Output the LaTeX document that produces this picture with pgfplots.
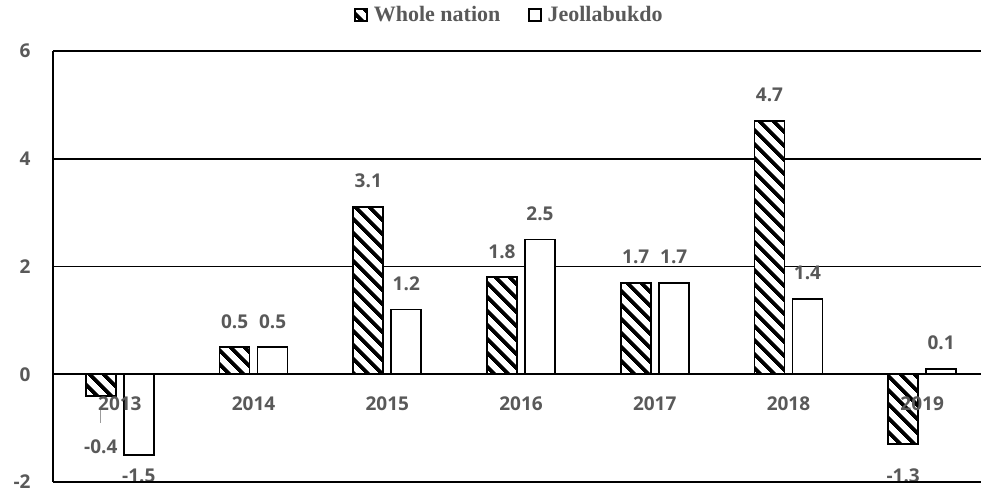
\documentclass[border=0pt]{standalone}
\usepackage{fontspec}
\setmainfont{Open Sans}
\newfontfamily\legfont{Liberation Serif}
\usepackage{pgfplots}
\pgfplotsset{compat=1.18}
\usepackage{pgfplotstable}
\usetikzlibrary{patterns.meta,calc}
\definecolor{lab}{HTML}{595959}

% x = category index (2013..2019), dy = label centre offset from bar end (pt)
\pgfplotstableread{
x  y     lab   dy
0  -0.4  -0.4  -51
1  0.5   0.5   26
2  3.1   3.1   26
3  1.8   1.8   26
4  1.7   1.7   26
5  4.7   4.7   26
6  -1.3  -1.3  -31
}\whole
\pgfplotstableread{
x  y     lab   dy
0  -1.5  -1.5  -21
1  0.5   0.5   26
2  1.2   1.2   26
3  2.5   2.5   26
4  1.7   1.7   26
5  1.4   1.4   26
6  0.1   0.1   26
}\jeol

\begin{document}
\begin{tikzpicture}[yearlab/.style={font=\fontsize{19}{21}\selectfont\bfseries, text=lab,
    inner sep=0pt, yshift=-29pt}]
\begin{axis}[
  scale only axis, width=928pt, height=431pt,
  xmin=-0.5, xmax=6.44, ymin=-2, ymax=6,
  ybar=8pt, bar width=30pt,
  axis y line=left, axis x line=middle,
  x axis line style={-, line width=1.8pt},
  y axis line style={-, line width=1.8pt},
  hide obscured x ticks=false, hide obscured y ticks=false,
  xtick={0,1,2,3,4,5,6}, xticklabels={},
  ytick={-2,0,2,4,6}, yticklabels={-2,0,2,4,6},
  major tick length=0pt,
  ymajorgrids, major grid style={black, line width=1.8pt},
  tick label style={font=\fontsize{19}{21}\selectfont\bfseries, text=lab},
  yticklabel style={xshift=-19pt},
  point meta=explicit symbolic,
  nodes near coords,
  visualization depends on={\thisrow{dy} \as \dy},
  legend columns=2,
  legend style={draw=none, fill=none, at={(0.492,1)}, anchor=center, yshift=36pt,
    font=\legfont\bfseries\fontsize{22}{24}\selectfont, text=lab,
    /tikz/every odd column/.append style={column sep=4pt},
    /tikz/every even column/.append style={column sep=26pt}},
  legend image code/.code={\draw[#1, line width=1.2pt] (0pt,-6pt) rectangle (12pt,6pt);},
]
\addplot[draw=black, line width=1.8pt, preaction={fill=white},
  pattern={Lines[angle=-45,distance=10.5pt,line width=4.2pt]}, pattern color=black,
  every node near coord/.append style={anchor=center, inner sep=0pt,
    yshift=\dy pt, font=\fontsize{19}{21}\selectfont\bfseries, text=lab}]
  table[x=x, y=y, meta=lab] {\whole};
\addplot[draw=black, fill=white, line width=1.8pt,
  every node near coord/.append style={anchor=center, inner sep=0pt,
    yshift=\dy pt, font=\fontsize{19}{21}\selectfont\bfseries, text=lab}]
  table[x=x, y=y, meta=lab] {\jeol};
\legend{Whole nation, Jeollabukdo}
\draw[lab!60, line width=1.2pt] (axis cs:-0.142,-0.63) -- (axis cs:-0.142,-0.91);
% category names over the bars, as in the reference
\node[yearlab] at (axis cs:0,0) {2013};
\node[yearlab] at (axis cs:1,0) {2014};
\node[yearlab] at (axis cs:2,0) {2015};
\node[yearlab] at (axis cs:3,0) {2016};
\node[yearlab] at (axis cs:4,0) {2017};
\node[yearlab] at (axis cs:5,0) {2018};
\node[yearlab] at (axis cs:6,0) {2019};
\coordinate (bl) at (rel axis cs:0,0);
\coordinate (tr) at (rel axis cs:1,1);
\end{axis}
\draw[line width=2.6pt] (bl |- tr) -- (tr);
\draw[line width=2.2pt] (bl) -- (bl -| tr);
\pgfresetboundingbox
\path[use as bounding box] ($(bl)+(-53pt,-6pt)$) rectangle ($(tr)+(0pt,51pt)$);
\end{tikzpicture}
\end{document}
